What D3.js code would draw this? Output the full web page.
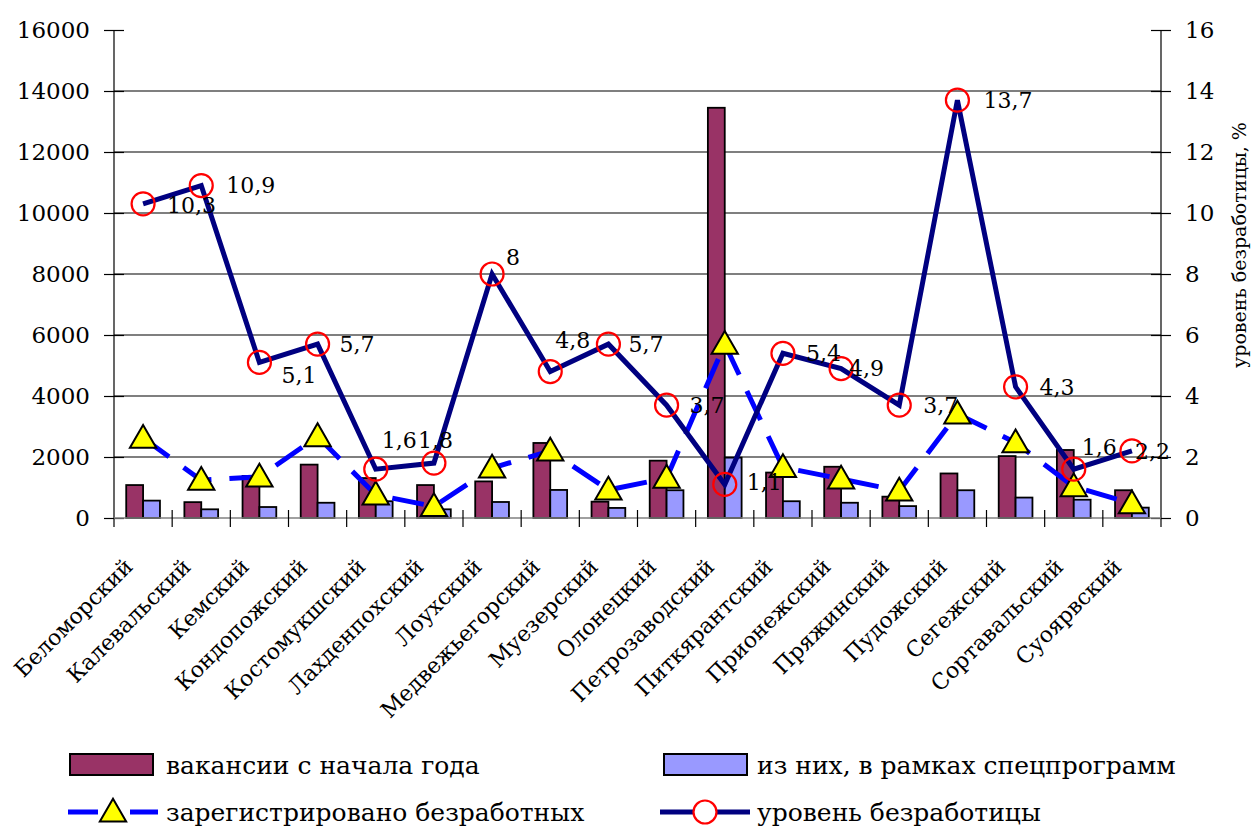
<!DOCTYPE html>
<html>
<head>
<meta charset="utf-8">
<script src="https://cdn.jsdelivr.net/npm/d3@7"></script>
<style>
  html, body { margin: 0; padding: 0; background: #fff; }
  svg text { font-family: "DejaVu Serif", "Liberation Serif", serif; fill: #000; }
</style>
</head>
<body>
<svg id="chart" width="1253" height="830"></svg>
<script>
// Районы Республики Карелия
const categories = ["Беломорский", "Калевальский", "Кемский", "Кондопожский", "Костомукшский",
  "Лахденпохский", "Лоухский", "Медвежьегорский", "Муезерский", "Олонецкий", "Петрозаводский",
  "Питкярантский", "Прионежский", "Пряжинский", "Пудожский", "Сегежский", "Сортавальский", "Суоярвский"];

// вакансии с начала года
const vacancies = [1080, 520, 1380, 1750, 1310, 1080, 1200, 2460, 535, 1880, 13450, 1490, 1680, 700, 1460, 2030, 2230, 910];
// из них, в рамках спецпрограмм
const specPrograms = [570, 285, 360, 500, 550, 285, 525, 920, 330, 910, 1980, 550, 500, 390, 910, 670, 600, 340];
// зарегистрировано безработных
const registered = [2620, 1240, 1350, 2670, 760, 380, 1640, 2200, 920, 1310, 5700, 1660, 1280, 890, 3410, 2470, 1030, 470];
// уровень безработицы, %
const rate = [10.3, 10.9, 5.1, 5.7, 1.6, 1.8, 8, 4.8, 5.7, 3.7, 1.1, 5.4, 4.9, 3.7, 13.7, 4.3, 1.6, 2.2];

const leftTicks = [0, 2000, 4000, 6000, 8000, 10000, 12000, 14000, 16000];
const rightTicks = [0, 2, 4, 6, 8, 10, 12, 14, 16];

const seriesNames = ["вакансии с начала года", "из них, в рамках спецпрограмм",
  "зарегистрировано безработных", "уровень безработицы"];
const rightAxisTitle = "уровень безработицы, %";

const svg = d3.select("#chart");
const plot = { left: 114, right: 1161, top: 30, bottom: 518 };
const FONT = 23;

const x = d3.scaleBand().domain(categories).range([plot.left, plot.right]).padding(0);
const yL = d3.scaleLinear().domain([0, 16000]).range([plot.bottom, plot.top]);
const yR = d3.scaleLinear().domain([0, 16]).range([plot.bottom, plot.top]);
const cx = d => x(d) + x.bandwidth() / 2;
const barW = x.bandwidth() * 0.29;

// horizontal gridlines
svg.append("g").selectAll("line")
  .data(leftTicks.filter(t => t > 0 && t < 16000))
  .join("line")
  .attr("x1", plot.left).attr("x2", plot.right)
  .attr("y1", d => yL(d)).attr("y2", d => yL(d))
  .attr("stroke", "#000").attr("stroke-width", 1.2);

// left axis
const axL = svg.append("g").attr("transform", `translate(${plot.left},0)`)
  .call(d3.axisLeft(yL).tickValues(leftTicks).tickSize(10).tickPadding(14).tickFormat(d3.format("d")));
axL.select(".domain").remove();
axL.selectAll(".tick line").clone().attr("x2", 10);
axL.selectAll("line").attr("stroke", "#000").attr("stroke-width", 1.2);
axL.selectAll("text").style("font-size", FONT + "px");
svg.append("line").attr("x1", plot.left).attr("x2", plot.left)
  .attr("y1", plot.top).attr("y2", plot.bottom + 9).attr("stroke", "#000").attr("stroke-width", 1.2);

// right axis
const axR = svg.append("g").attr("transform", `translate(${plot.right},0)`)
  .call(d3.axisRight(yR).tickValues(rightTicks).tickSize(10).tickPadding(14));
axR.select(".domain").remove();
axR.selectAll(".tick line").clone().attr("x2", -10);
axR.selectAll("line").attr("stroke", "#000").attr("stroke-width", 1.2);
axR.selectAll("text").style("font-size", FONT + "px");
svg.append("line").attr("x1", plot.right).attr("x2", plot.right)
  .attr("y1", plot.top).attr("y2", plot.bottom + 9).attr("stroke", "#000").attr("stroke-width", 1.2);

svg.append("text")
  .attr("transform", `translate(1246,${(plot.top + plot.bottom) / 2 - 29}) rotate(-90)`)
  .attr("text-anchor", "middle")
  .style("font-size", "19px")
  .text(rightAxisTitle);

// bars
const bars = svg.append("g");
bars.selectAll("rect.vac").data(categories).join("rect")
  .attr("x", d => cx(d) - barW).attr("width", barW)
  .attr("y", (d, i) => yL(vacancies[i])).attr("height", (d, i) => yL(0) - yL(vacancies[i]))
  .attr("fill", "#993366").attr("stroke", "#000").attr("stroke-width", 1.8);
bars.selectAll("rect.spec").data(categories).join("rect")
  .attr("x", d => cx(d)).attr("width", barW)
  .attr("y", (d, i) => yL(specPrograms[i])).attr("height", (d, i) => yL(0) - yL(specPrograms[i]))
  .attr("fill", "#9999FF").attr("stroke", "#000").attr("stroke-width", 1.8);

// category axis
svg.append("line").attr("x1", plot.left).attr("x2", plot.right)
  .attr("y1", plot.bottom).attr("y2", plot.bottom).attr("stroke", "#808080").attr("stroke-width", 1.5);
svg.append("g").selectAll("line").data(categories.slice(1)).join("line")
  .attr("x1", d => x(d)).attr("x2", d => x(d))
  .attr("y1", plot.bottom - 8).attr("y2", plot.bottom + 9)
  .attr("stroke", "#000").attr("stroke-width", 1.2);
svg.append("g").selectAll("text").data(categories).join("text")
  .attr("transform", d => `translate(${cx(d) - 9},${plot.bottom + 50}) rotate(-45)`)
  .attr("text-anchor", "end")
  .style("font-size", "22px")
  .text(d => d);

// зарегистрировано безработных: dashed line with triangles
const DASH = "32,18";
const lineReg = d3.line().x((d, i) => cx(categories[i])).y(d => yL(d));
svg.append("path").datum(registered)
  .attr("d", lineReg).attr("fill", "none")
  .attr("stroke", "#0000FF").attr("stroke-width", 5)
  .attr("stroke-dasharray", DASH);

// уровень безработицы: solid navy line with circles
const lineRate = d3.line().x((d, i) => cx(categories[i])).y(d => yR(d));
svg.append("path").datum(rate)
  .attr("d", lineRate).attr("fill", "none")
  .attr("stroke", "#000080").attr("stroke-width", 5).attr("stroke-linejoin", "miter");

const tri = d3.symbol().type(d3.symbolTriangle).size(300);
svg.append("g").selectAll("path").data(registered).join("path")
  .attr("d", tri)
  .attr("transform", (d, i) => `translate(${cx(categories[i])},${yL(d) + 2})`)
  .attr("fill", "#FFFF00").attr("stroke", "#000").attr("stroke-width", 2);

svg.append("g").selectAll("circle").data(rate).join("circle")
  .attr("cx", (d, i) => cx(categories[i])).attr("cy", d => yR(d)).attr("r", 11.5)
  .attr("fill", "none").attr("stroke", "#FF0000").attr("stroke-width", 2.2);

// value labels: to the right of each point, a few nudged to avoid the lines
const fmt = v => String(v).replace(".", ",");
const nudge = {
  0: [4, 1], 1: [5, 0], 2: [2, 13], 3: [2, 0], 4: [-14, -29], 5: [-36, -23],
  6: [-6, -17], 7: [-15, -32], 9: [3, 0], 10: [2, -2], 11: [3, 0], 12: [-12, 0],
  13: [4, 0], 14: [6, 0], 15: [4, 0], 16: [-12, -22], 17: [-17, 0]
};
svg.append("g").selectAll("text").data(rate).join("text")
  .attr("x", (d, i) => cx(categories[i]) + 20 + (nudge[i] ? nudge[i][0] : 0))
  .attr("y", (d, i) => yR(d) + (nudge[i] ? nudge[i][1] : 0))
  .attr("dy", "0.36em")
  .style("font-size", "22px")
  .text(fmt);

// legend
const lg = svg.append("g").style("font-size", "25px");
const row1 = 765, row2 = 812;
lg.append("rect").attr("x", 70).attr("y", row1 - 11).attr("width", 83).attr("height", 21)
  .attr("fill", "#993366").attr("stroke", "#000").attr("stroke-width", 2);
lg.append("text").attr("x", 166).attr("y", row1).attr("dy", "0.36em").text(seriesNames[0]);
lg.append("rect").attr("x", 664).attr("y", row1 - 11).attr("width", 83).attr("height", 21)
  .attr("fill", "#9999FF").attr("stroke", "#000").attr("stroke-width", 2);
lg.append("text").attr("x", 757).attr("y", row1).attr("dy", "0.36em").text(seriesNames[1]);

lg.append("line").attr("x1", 68).attr("x2", 158).attr("y1", row2).attr("y2", row2)
  .attr("stroke", "#0000FF").attr("stroke-width", 5).attr("stroke-dasharray", "30,32,30");
lg.append("path").attr("d", tri).attr("transform", `translate(113,${row2 + 2})`)
  .attr("fill", "#FFFF00").attr("stroke", "#000").attr("stroke-width", 2);
lg.append("text").attr("x", 166).attr("y", row2).attr("dy", "0.36em").text(seriesNames[2]);

lg.append("line").attr("x1", 660).attr("x2", 750).attr("y1", row2).attr("y2", row2)
  .attr("stroke", "#000080").attr("stroke-width", 5);
lg.append("circle").attr("cx", 705).attr("cy", row2).attr("r", 11.5)
  .attr("fill", "#fff").attr("stroke", "#FF0000").attr("stroke-width", 2.2);
lg.append("text").attr("x", 757).attr("y", row2).attr("dy", "0.36em").text(seriesNames[3]);
</script>
</body>
</html>
